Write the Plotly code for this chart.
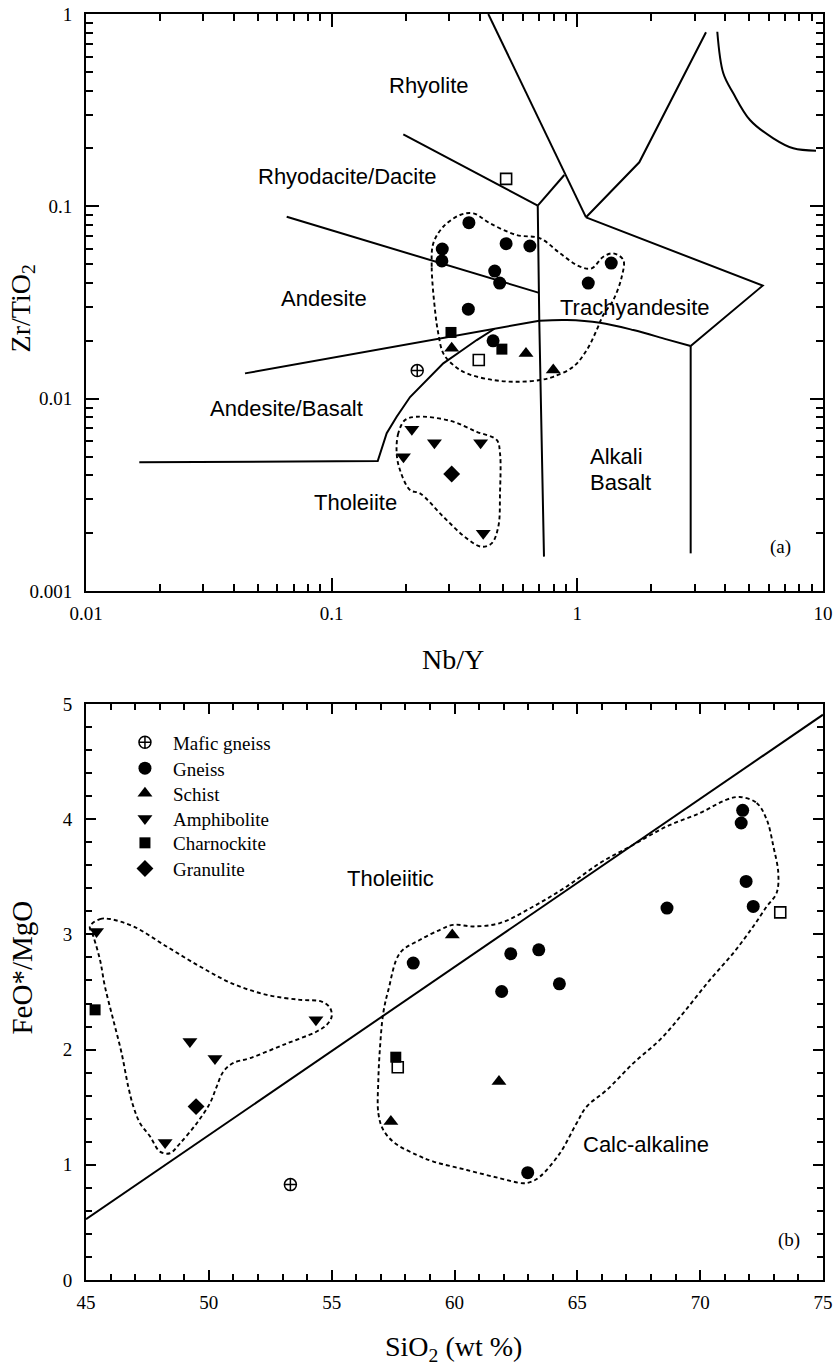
import numpy as np
import plotly.graph_objects as go

# ---------------- (a) Nb/Y vs Zr/TiO2 ----------------
mafic_a_x = [0.223]
mafic_a_y = [0.0140]
gneiss_a_x = [0.362, 0.282, 0.281, 0.513, 0.641, 0.461, 0.483, 0.360, 1.374, 1.108, 0.454]
gneiss_a_y = [0.0822, 0.0600, 0.0520, 0.0640, 0.0622, 0.0461, 0.0399, 0.0292, 0.0507, 0.0399, 0.0200]
schist_a_x = [0.308, 0.618, 0.798]
schist_a_y = [0.0183, 0.0172, 0.0141]
amph_a_x = [0.212, 0.262, 0.404, 0.196, 0.414]
amph_a_y = [0.00693, 0.00590, 0.00590, 0.00499, 0.00200]
charn_a_x = [0.306, 0.493]
charn_a_y = [0.0221, 0.0181]
gran_a_x = [0.308]
gran_a_y = [0.00406]
open_a_x = [0.513, 0.397]
open_a_y = [0.139, 0.0159]

# field boundaries (a)
rhy_rd_x = [0.1957, 0.690]
rhy_rd_y = [0.2368, 0.1008]
rd_and_x = [0.0656, 0.694]
rd_and_y = [0.0883, 0.0356]
vert1_x = [0.690, 0.700, 0.7315]
vert1_y = [0.1008, 0.02543, 0.00151]
link_x = [0.690, 0.885]
link_y = [0.1008, 0.1455]
diag_x = [0.434, 1.085]
diag_y = [1.0, 0.0877]
ta_upper_x = [1.085, 5.682, 2.893]
ta_upper_y = [0.0877, 0.0387, 0.01878]
com_x = [1.085, 1.787, 3.340]
com_y = [0.0877, 0.1694, 0.8034]
phon_x = [3.713, 3.928, 4.314, 5.044, 6.276, 7.569, 9.365]
phon_y = [0.809, 0.4916, 0.387, 0.2811, 0.2258, 0.2003, 0.1946]
vert2_x = [2.893, 2.893]
vert2_y = [0.01878, 0.00157]
and_ab_x = [0.04438, 0.700]
and_ab_y = [0.01354, 0.02543]
ta_lower_x = [0.700, 0.905, 1.236, 1.690, 2.310, 2.893]
ta_lower_y = [0.02543, 0.02564, 0.02483, 0.02275, 0.02035, 0.01878]
ab_th_x = [0.01648, 0.154, 0.1675, 0.1839, 0.2085, 0.2436, 0.2847, 0.333, 0.3895, 0.46]
ab_th_y = [0.004667, 0.00474, 0.00661, 0.00806, 0.0102, 0.0125, 0.01527, 0.01754, 0.02018, 0.0231]

# dashed envelopes (a)
env1_a_x = [0.2634, 0.2554, 0.2593, 0.2847, 0.333, 0.3772, 0.441, 0.5664, 0.7047, 0.850, 1.025,
            1.144, 1.275, 1.401, 1.539, 1.516, 1.401, 1.275, 1.199, 1.092, 0.963, 0.798, 0.7047,
            0.5664, 0.4549, 0.3544, 0.3127, 0.2847, 0.2716, 0.2634]
env1_a_y = [0.0289, 0.04856, 0.06424, 0.07834, 0.09015, 0.0920, 0.08161, 0.07094, 0.06822, 0.05699,
            0.04856, 0.04763, 0.0547, 0.05699, 0.0526, 0.04306, 0.03258, 0.02723, 0.02275, 0.0179,
            0.01466, 0.0130, 0.0125, 0.01225, 0.0125, 0.01354, 0.01496, 0.0172, 0.02187, 0.0289]
env2_a_x = [0.1988, 0.1867, 0.1839, 0.1897, 0.2085, 0.2288, 0.2847, 0.3544, 0.408, 0.448, 0.4768,
            0.4844, 0.4844, 0.4696, 0.3895, 0.3031, 0.2219, 0.1988]
env2_a_y = [0.00774, 0.00661, 0.0052, 0.004257, 0.00335, 0.00322, 0.002434, 0.001879, 0.001699,
            0.00177, 0.00216, 0.00322, 0.0052, 0.0061, 0.00673, 0.00768, 0.00806, 0.00774]

labels_a = ["Rhyolite", "Rhyodacite/Dacite", "Andesite", "Trachyandesite", "Andesite/Basalt", "Tholeiite"]
labels_a_x = [0.2483, 0.116, 0.0929, 1.717, 0.0656, 0.1245]
labels_a_y = [0.4274, 0.1426, 0.03323, 0.02996, 0.00891, 0.00289]
labels_a_left = ["Alkali", "Basalt"]
labels_a_left_x = [1.108, 1.108]
labels_a_left_y = [0.00499, 0.003656]

# ---------------- (b) SiO2 vs FeO*/MgO ----------------
mafic_b_x = [53.32]
mafic_b_y = [0.828]
gneiss_b_x = [58.32, 62.29, 63.43, 61.92, 64.27, 62.98, 68.65, 71.73, 71.67, 71.87, 72.16]
gneiss_b_y = [2.751, 2.832, 2.866, 2.504, 2.571, 0.932, 3.228, 4.077, 3.967, 3.460, 3.243]
schist_b_x = [59.91, 61.81, 57.41]
schist_b_y = [2.994, 1.723, 1.375]
amph_b_x = [45.43, 49.23, 50.25, 48.22, 54.36]
amph_b_y = [3.025, 2.070, 1.922, 1.193, 2.258]
charn_b_x = [45.37, 57.61]
charn_b_y = [2.345, 1.934]
gran_b_x = [49.48]
gran_b_y = [1.505]
open_b_x = [57.69, 73.26]
open_b_y = [1.847, 3.191]

div_x = [45, 75]
div_y = [0.527, 4.907]

env1_b_x = [45.16, 45.57, 45.98, 46.93, 48.28, 49.64, 50.98, 52.36, 53.71, 54.59, 54.93, 55.00, 54.80,
            54.39, 53.03, 51.68, 50.98, 50.59, 50.32, 50.05, 49.51, 48.83, 48.42, 48.01, 47.61, 47.20,
            46.93, 46.72, 46.45, 46.11, 45.77, 45.57, 45.30, 45.16]
env1_b_y = [3.069, 3.133, 3.133, 3.069, 2.895, 2.721, 2.571, 2.475, 2.432, 2.417, 2.363, 2.287, 2.215,
            2.157, 2.041, 1.926, 1.882, 1.809, 1.679, 1.537, 1.361, 1.187, 1.100, 1.114, 1.245, 1.361,
            1.505, 1.679, 1.969, 2.258, 2.548, 2.779, 2.982, 3.069]
env2_b_x = [71.62, 72.30, 72.71, 72.98, 73.18, 73.11, 72.71, 72.16, 71.35, 70.40, 69.31, 68.36, 67.28,
            66.20, 65.38, 64.97, 64.29, 63.48, 63.14, 62.80, 61.85, 60.50, 59.14, 58.46, 57.58, 57.10,
            56.90, 56.90, 56.97, 57.10, 57.31, 57.78, 58.60, 59.41, 59.95, 60.77, 61.85, 63.21, 64.57,
            65.92, 67.28, 68.64, 70.00, 71.08, 71.62]
env2_b_y = [4.193, 4.141, 3.996, 3.764, 3.533, 3.359, 3.242, 3.069, 2.838, 2.606, 2.317, 2.085, 1.882,
            1.650, 1.505, 1.361, 1.100, 0.897, 0.854, 0.840, 0.883, 0.955, 1.028, 1.086, 1.187, 1.303,
            1.448, 1.737, 2.026, 2.317, 2.519, 2.838, 2.953, 3.040, 3.083, 3.069, 3.098, 3.242, 3.416,
            3.619, 3.778, 3.937, 4.054, 4.170, 4.193]

labels_b = ["Tholeiitic", "Calc-alkaline"]
labels_b_x = [57.41, 67.79]
labels_b_y = [3.483, 1.179]

legend_names = ["Mafic gneiss", "Gneiss", "Schist", "Amphibolite", "Charnockite", "Granulite"]

SERIF = "Liberation Serif, Times New Roman, serif"
SANS = "Liberation Sans, Arial, sans-serif"

fig = go.Figure()

solid = dict(color="black", width=2)
dashed = dict(color="black", width=1.9, dash="4px,3px")


def add_line(x, y, xa, ya, line=solid, shape="linear"):
    fig.add_trace(go.Scatter(x=x, y=y, xaxis=xa, yaxis=ya, mode="lines",
                             line=dict(**line, shape=shape), showlegend=False, hoverinfo="skip"))


for lx, ly in [(rhy_rd_x, rhy_rd_y), (rd_and_x, rd_and_y), (vert1_x, vert1_y), (link_x, link_y),
               (diag_x, diag_y), (ta_upper_x, ta_upper_y), (com_x, com_y), (vert2_x, vert2_y),
               (and_ab_x, and_ab_y), (ab_th_x, ab_th_y)]:
    add_line(lx, ly, "x", "y")
add_line(phon_x, phon_y, "x", "y", shape="spline")
add_line(ta_lower_x, ta_lower_y, "x", "y", shape="spline")
add_line(env1_a_x, env1_a_y, "x", "y", line=dashed, shape="spline")
add_line(env2_a_x, env2_a_y, "x", "y", line=dashed, shape="spline")

add_line(div_x, div_y, "x2", "y2")
add_line(env1_b_x, env1_b_y, "x2", "y2", line=dashed, shape="spline")
add_line(env2_b_x, env2_b_y, "x2", "y2", line=dashed, shape="spline")

styles = [
    dict(symbol="circle-cross-open", size=12, color="black", line=dict(color="black", width=1.5)),
    dict(symbol="circle", size=13, color="black"),
    dict(symbol="triangle-up", size=13, color="black"),
    dict(symbol="triangle-down", size=13, color="black"),
    dict(symbol="square", size=11, color="black"),
    dict(symbol="diamond", size=13, color="black"),
]
series_a = [(mafic_a_x, mafic_a_y), (gneiss_a_x, gneiss_a_y), (schist_a_x, schist_a_y),
            (amph_a_x, amph_a_y), (charn_a_x, charn_a_y), (gran_a_x, gran_a_y)]
series_b = [(mafic_b_x, mafic_b_y), (gneiss_b_x, gneiss_b_y), (schist_b_x, schist_b_y),
            (amph_b_x, amph_b_y), (charn_b_x, charn_b_y), (gran_b_x, gran_b_y)]

open_style = dict(symbol="square-open", size=11, color="black", line=dict(color="black", width=1.6))
fig.add_trace(go.Scatter(x=open_a_x, y=open_a_y, xaxis="x", yaxis="y", mode="markers",
                         marker=open_style, showlegend=False))
fig.add_trace(go.Scatter(x=open_b_x, y=open_b_y, xaxis="x2", yaxis="y2", mode="markers",
                         marker=open_style, showlegend=False))

for (sx, sy), st, nm in zip(series_a, styles, legend_names):
    fig.add_trace(go.Scatter(x=sx, y=sy, xaxis="x", yaxis="y", mode="markers", marker=st,
                             name=nm, showlegend=False))
legend_ids = ["legend", "legend2", "legend3", "legend4", "legend5", "legend6"]
for (sx, sy), st, nm, lg in zip(series_b, styles, legend_names, legend_ids):
    fig.add_trace(go.Scatter(x=sx, y=sy, xaxis="x2", yaxis="y2", mode="markers", marker=st,
                             name=nm, showlegend=True, legend=lg))

ann = []
for t, x, y in zip(labels_a, labels_a_x, labels_a_y):
    ann.append(dict(text=t, x=np.log10(x), y=np.log10(y), xref="x", yref="y", showarrow=False,
                    font=dict(family=SANS, size=22, color="black"), xanchor="center", yanchor="middle"))
for t, x, y in zip(labels_a_left, labels_a_left_x, labels_a_left_y):
    ann.append(dict(text=t, x=np.log10(x), y=np.log10(y), xref="x", yref="y", showarrow=False,
                    font=dict(family=SANS, size=22, color="black"), xanchor="left", yanchor="middle"))
for t, x, y in zip(labels_b, labels_b_x, labels_b_y):
    ann.append(dict(text=t, x=x, y=y, xref="x2", yref="y2", showarrow=False,
                    font=dict(family=SANS, size=22, color="black"), xanchor="center", yanchor="middle"))
ann.append(dict(text="(a)", x=0.959, y=0.0537, xref="x domain", yref="y domain", showarrow=False,
                font=dict(family=SERIF, size=19, color="black")))
ann.append(dict(text="(b)", x=0.972, y=0.0474, xref="x2 domain", yref="y2 domain", showarrow=False,
                font=dict(family=SERIF, size=19, color="black")))
# axis titles
tfont = dict(family=SERIF, size=28, color="black")
ann.append(dict(text="Nb/Y", x=0.498, y=0.4905, xref="paper", yref="paper", showarrow=False,
                font=tfont, xanchor="center", yanchor="middle"))
ann.append(dict(text="SiO<sub>2</sub> (wt %)", x=0.498, y=-0.0545, xref="paper", yref="paper",
                showarrow=False, font=tfont, xanchor="center", yanchor="middle"))
ann.append(dict(text="Zr/TiO<sub>2</sub>", x=-0.0862, y=0.7678, xref="paper", yref="paper",
                showarrow=False, font=tfont, textangle=-90, xanchor="center", yanchor="middle"))
ann.append(dict(text="FeO*/MgO", x=-0.0862, y=0.2472, xref="paper", yref="paper",
                showarrow=False, font=dict(family=SERIF, size=29, color="black"), textangle=-90,
                xanchor="center", yanchor="middle"))

tickfont = dict(family=SERIF, size=19, color="black")
common = dict(showline=True, linewidth=2, linecolor="black", mirror="allticks", ticks="inside",
              tickwidth=2, tickcolor="black", showgrid=False, zeroline=False, tickfont=tickfont,
              automargin=False)

xminor_a = [m * 10.0 ** e for e in range(-2, 1) for m in range(2, 10)]
yminor_a = [m * 10.0 ** e for e in range(-3, 0) for m in range(2, 10)]

legend_rows_y = [0.4247, 0.4042, 0.3844, 0.3644, 0.3452, 0.3249]
legend_layout = {}
for lg, ly in zip(legend_ids, legend_rows_y):
    legend_layout[lg] = dict(x=0.042, y=ly, xanchor="left", yanchor="middle", bgcolor="rgba(0,0,0,0)",
                             font=dict(family=SERIF, size=19, color="black"), itemwidth=46)

fig.update_layout(
    width=838, height=1365,
    margin=dict(l=86, r=15, t=14, b=85, autoexpand=False),
    plot_bgcolor="white", paper_bgcolor="white",
    xaxis=dict(type="log", range=[-2, 1], domain=[0, 1], anchor="y",
               tickvals=[0.01, 0.1, 1, 10], ticktext=["0.01", "0.1", "1", "10"], ticklen=13,
               ticklabelstandoff=4,
               minor=dict(tickvals=xminor_a, ticks="inside", ticklen=7, tickwidth=1.5, tickcolor="black"),
               **common),
    yaxis=dict(type="log", range=[-3, 0], domain=[0.5442, 1], anchor="x",
               tickvals=[0.001, 0.01, 0.1, 1], ticktext=["0.001", "0.01", "0.1", "1"], ticklen=13,
               ticklabelstandoff=8,
               minor=dict(tickvals=yminor_a, ticks="inside", ticklen=7, tickwidth=1.5, tickcolor="black"),
               **common),
    xaxis2=dict(range=[45, 75], domain=[0, 1], anchor="y2", tickvals=[45, 50, 55, 60, 65, 70, 75],
                ticklen=10, ticklabelstandoff=4,
                minor=dict(dtick=1, ticks="inside", ticklen=6, tickwidth=1.5, tickcolor="black"),
                **common),
    yaxis2=dict(range=[0, 5], domain=[0, 0.455], anchor="x2", tickvals=[0, 1, 2, 3, 4, 5],
                ticklen=10, ticklabelstandoff=8,
                minor=dict(dtick=0.2, ticks="inside", ticklen=6, tickwidth=1.5, tickcolor="black"),
                **common),
    annotations=ann,
    **legend_layout,
)

fig.write_html("out.html", config={"displayModeBar": False},
               post_script="document.body.style.margin='0';")
